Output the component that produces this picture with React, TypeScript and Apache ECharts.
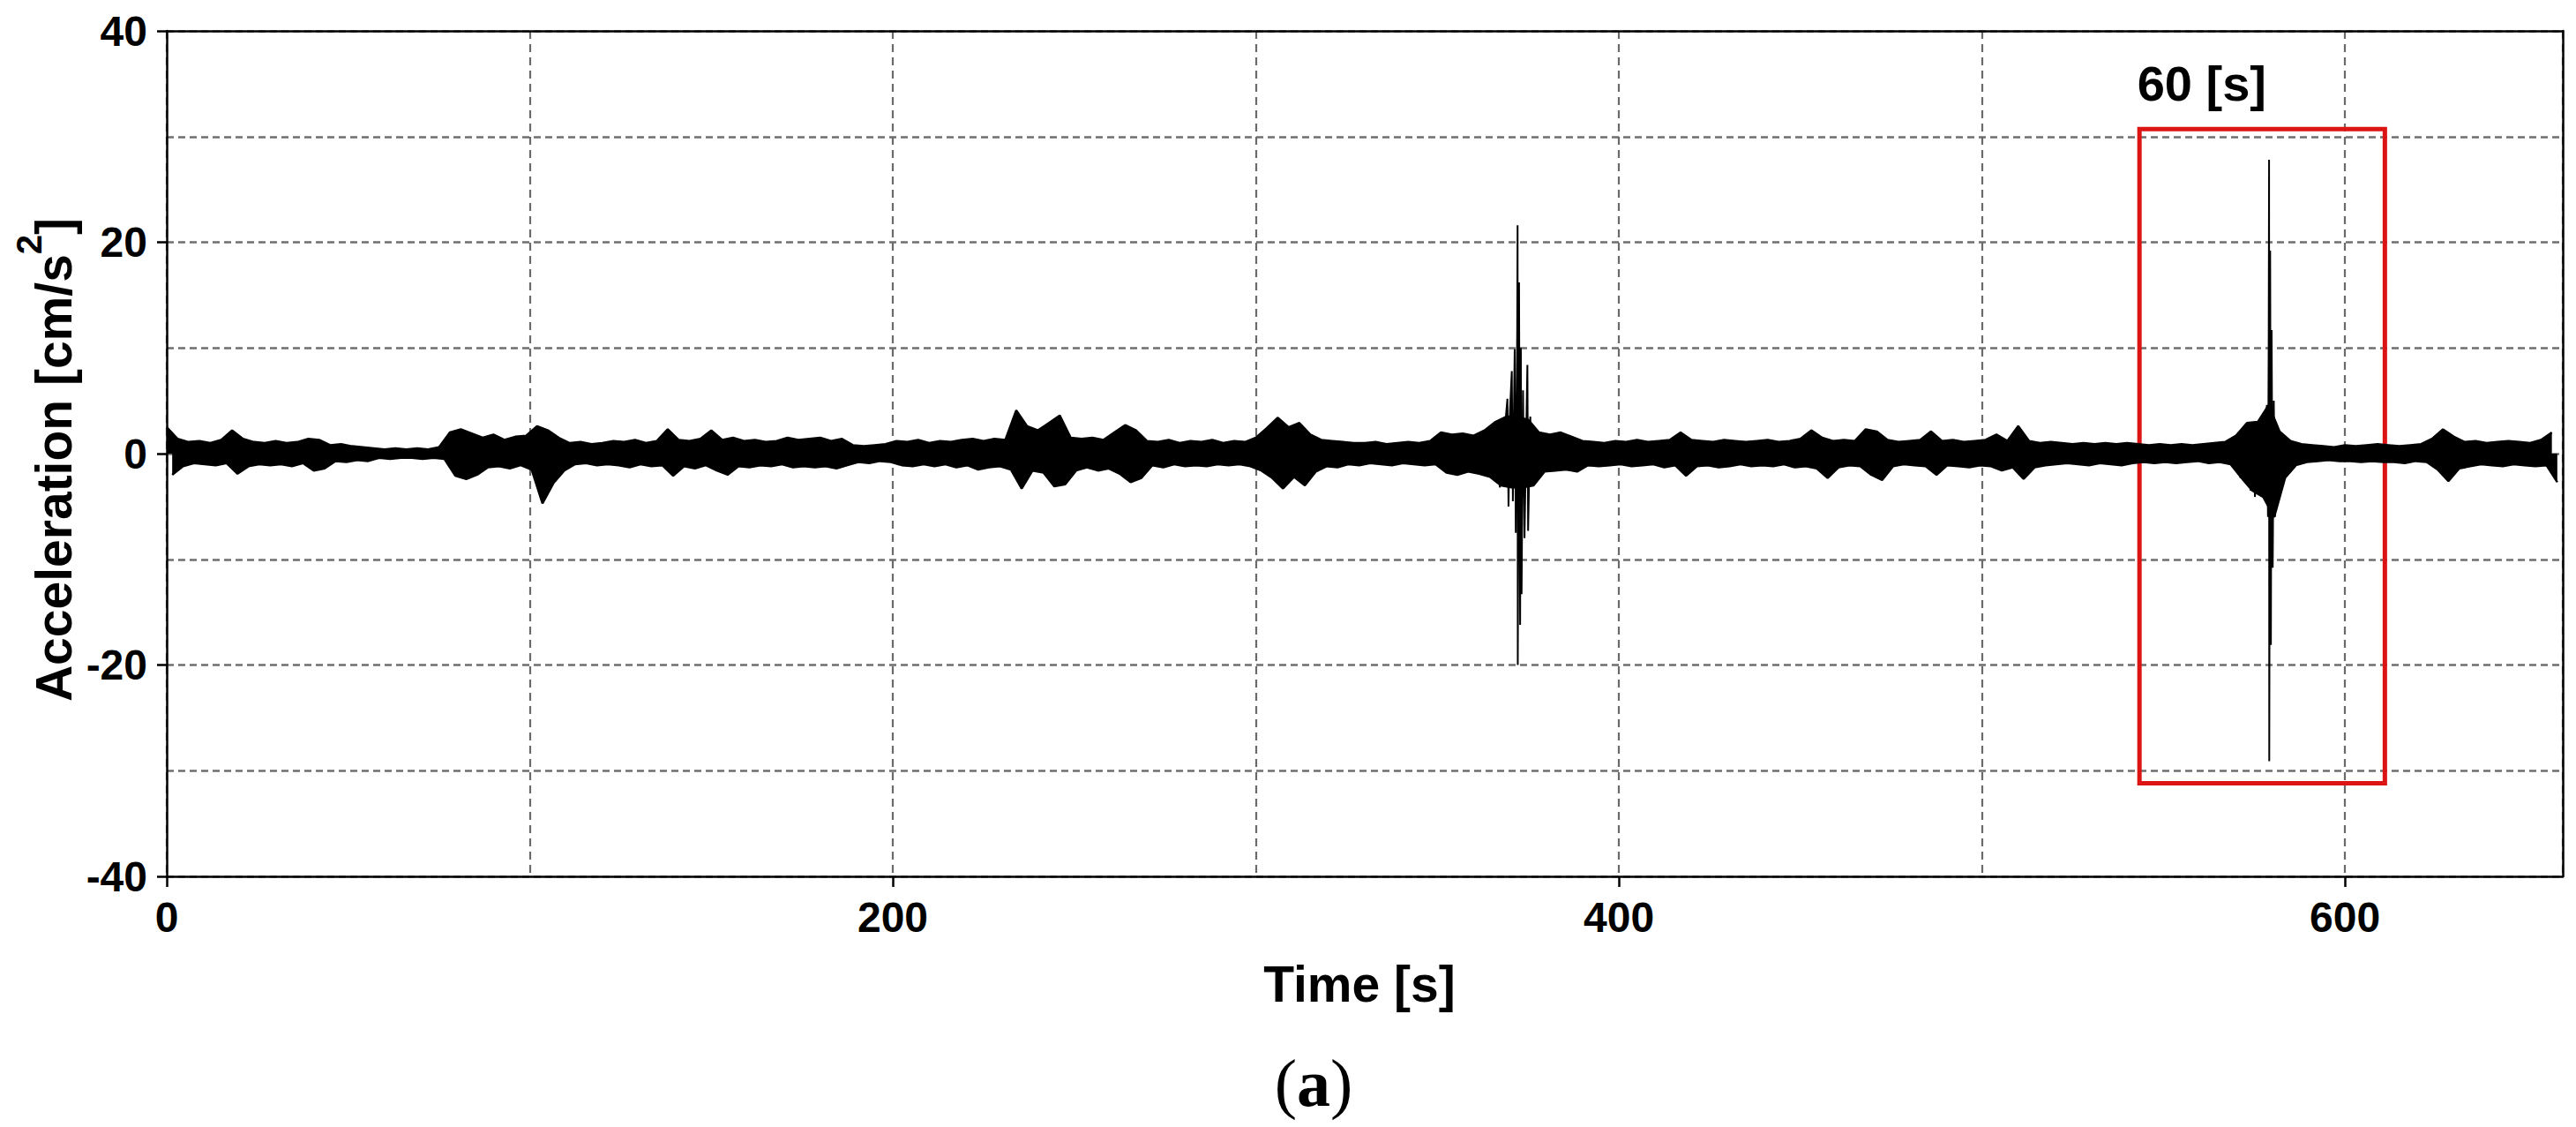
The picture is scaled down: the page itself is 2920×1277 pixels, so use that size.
import React, { useEffect, useRef } from "react";
import * as echarts from "echarts";

// ---- axis ticks / labels ----
const X_LABELS = [0, 200, 400, 600];
const Y_LABELS = [-40, -20, 0, 20, 40];
const X_MAX = 660;

// ---- background trace: envelope read every 3 s (upper peak at t, lower peak at t+1.5) ----
const BIN_SECONDS = 3;
const UPPER = [
  2.5, 1.4, 1.1, 1.2, 1.0, 1.3, 2.2, 1.4, 1.1, 1.0,
  1.2, 1.0, 1.1, 1.4, 1.3, 0.8, 0.9, 0.7, 0.6, 0.5,
  0.4, 0.5, 0.4, 0.5, 0.4, 0.6, 2.0, 2.3, 1.9, 1.5,
  1.8, 1.3, 1.6, 1.7, 2.6, 2.2, 1.5, 1.0, 1.1, 0.9,
  1.0, 1.2, 1.1, 1.3, 1.0, 1.2, 2.3, 1.3, 1.2, 1.4,
  2.2, 1.3, 1.5, 1.2, 1.3, 1.1, 1.2, 1.5, 1.3, 1.4,
  1.5, 1.2, 1.4, 0.8, 0.7, 0.8, 0.9, 1.2, 1.1, 1.3,
  1.0, 1.2, 1.1, 1.3, 1.4, 1.2, 1.4, 1.3, 4.1, 2.6,
  2.2, 2.9, 3.6, 1.5, 1.4, 1.5, 1.3, 2.0, 2.7, 2.2,
  1.2, 1.1, 1.3, 1.0, 1.2, 1.1, 1.3, 1.0, 1.2, 1.1,
  1.5, 2.4, 3.4, 2.5, 2.9, 1.8, 1.3, 1.2, 1.1, 1.0,
  1.0, 1.1, 0.9, 1.0, 1.1, 1.0, 1.2, 2.0, 1.8, 1.9,
  1.7, 2.2, 3.0, 3.5, 3.5, 3.2, 2.0, 1.8, 2.0, 1.6,
  1.2, 1.1, 1.0, 1.2, 1.1, 1.3, 1.1, 1.2, 1.3, 2.0,
  1.3, 1.2, 1.1, 1.3, 1.2, 1.1, 1.2, 1.3, 1.1, 1.2,
  1.4, 2.2, 1.5, 1.2, 1.3, 1.2, 2.3, 2.1, 1.3, 1.1,
  1.2, 1.3, 2.1, 1.2, 1.3, 1.1, 1.2, 1.3, 1.8, 1.2,
  2.6, 1.2, 1.0, 1.1, 1.0, 0.9, 1.0, 0.9, 1.0, 0.9,
  1.0, 0.9, 0.8, 0.9, 0.8, 0.9, 0.8, 0.9, 1.0, 1.1,
  1.7, 2.9, 3.0, 4.6, 2.1, 1.2, 0.9, 0.8, 0.7, 0.6,
  0.8, 0.7, 0.8, 0.9, 0.8, 0.7, 0.8, 0.9, 1.4, 2.3,
  1.6, 1.1, 1.2, 1.0, 1.1, 1.2, 1.1, 1.0, 1.3, 2.0,
];
const LOWER = [
  -2.0, -1.2, -0.9, -1.0, -1.1, -0.9, -1.9, -1.2, -1.0, -1.1,
  -1.0, -1.2, -0.9, -1.6, -1.4, -0.7, -0.8, -0.6, -0.7, -0.4,
  -0.5, -0.4, -0.4, -0.5, -0.4, -0.5, -2.1, -2.4, -2.0, -1.3,
  -1.2, -1.4, -1.1, -1.5, -4.7, -2.8, -1.6, -1.0, -0.9, -1.1,
  -1.0, -1.1, -1.3, -1.0, -1.2, -1.1, -2.1, -1.2, -1.4, -1.1,
  -1.6, -2.0, -1.2, -1.3, -1.1, -1.2, -1.0, -1.3, -1.2, -1.3,
  -1.2, -1.4, -1.1, -0.8, -0.9, -0.7, -0.8, -1.1, -1.2, -1.0,
  -1.2, -1.0, -1.3, -1.1, -1.5, -1.3, -1.2, -1.5, -3.3, -1.6,
  -1.8, -3.1, -2.9, -1.6, -1.3, -1.6, -1.4, -1.9, -2.7, -2.3,
  -1.1, -1.3, -1.0, -1.2, -1.1, -1.2, -1.0, -1.1, -1.0, -1.2,
  -1.6, -2.3, -3.3, -2.2, -3.0, -1.7, -1.2, -1.3, -1.0, -1.1,
  -0.9, -1.0, -1.1, -0.9, -1.0, -1.1, -1.0, -1.8, -2.0, -1.7,
  -1.9, -2.2, -3.0, -3.2, -3.2, -3.0, -1.7, -1.6, -1.5, -1.7,
  -1.1, -1.2, -1.1, -1.0, -1.2, -1.1, -1.0, -1.3, -1.1, -2.1,
  -1.2, -1.1, -1.3, -1.2, -1.0, -1.2, -1.1, -1.2, -1.0, -1.3,
  -1.2, -1.4, -2.3, -1.3, -1.1, -1.2, -2.0, -2.5, -1.2, -1.0,
  -1.1, -1.2, -2.0, -1.1, -1.2, -1.3, -1.1, -1.2, -1.6, -1.3,
  -2.4, -1.3, -1.1, -1.0, -0.9, -1.0, -1.1, -0.9, -1.0, -1.1,
  -0.9, -0.8, -0.9, -0.8, -0.9, -0.8, -0.7, -0.9, -0.8, -1.0,
  -2.3, -3.5, -4.1, -6.0, -2.3, -1.1, -0.8, -0.7, -0.6, -0.7,
  -0.7, -0.8, -0.7, -0.8, -0.8, -0.9, -0.7, -0.8, -1.5, -2.6,
  -1.4, -1.2, -1.0, -1.1, -1.2, -1.0, -1.1, -1.2, -1.1, -2.7,
];

// ---- the two strong events (time [s], acceleration [cm/s^2]) ----
const EVENT_A_T = [364.2, 364.5, 366.8, 367.2, 369.3, 369.6, 370.0, 370.5, 370.8, 371.3, 371.6, 372.0, 372.1, 372.15, 372.5, 372.8, 373.0, 373.2, 373.6, 374.0, 374.8, 375.0, 375.6, 376.0];
const EVENT_A_V = [2.2, -2.2, 3.0, -3.2, 5.2, -5.0, 4.0, 7.8, -4.5, 9.9, -7.5, 12.0, 21.6, -20.0, 16.2, -16.2, 10.0, -13.3, 6.0, -8.0, 8.4, -7.3, 3.5, -3.0];
const EVENT_B_T = [570.8, 571.2, 573.6, 574.0, 574.8, 575.2, 576.5, 577.0, 578.5, 578.8, 579.0, 579.1, 579.15, 579.4, 579.6, 579.8, 580.1, 580.4, 580.7, 581.2, 581.6, 582.5, 583.0];
const EVENT_B_V = [1.7, -2.3, 3.0, -3.5, 2.6, -4.1, 3.0, -3.5, 4.6, -6.0, 11.0, 27.8, -29.1, 19.2, -18.1, 11.7, -10.8, 5.0, -6.0, 2.1, -2.3, 1.2, -1.2];

// ---- highlighted window ----
const BOX_T = [543.4, 611.0];
const BOX_A = [-31.2, 30.7];
const BOX_LABEL = "60 [s]";

const SANS = "'Liberation Sans', Arial, Helvetica, sans-serif";
const SERIF = "'Liberation Serif', 'Times New Roman', serif";

export default function App() {
  const ref = useRef<HTMLDivElement>(null);

  useEffect(() => {
    if (!ref.current) return;
    const chart = echarts.init(ref.current, null, { renderer: "svg" });

    const upperData = UPPER.map((v, i) => [i * BIN_SECONDS, v]);
    const lowerData = LOWER.map((v, i) => [i * BIN_SECONDS + BIN_SECONDS / 2, v]);
    const eventA = EVENT_A_T.map((t, i) => [t, EVENT_A_V[i]]);
    const eventB = EVENT_B_T.map((t, i) => [t, EVENT_B_V[i]]);

    const axisLineStyle = { color: "#000", width: 2.5 };
    const labelStyle = {
      fontSize: 48,
      fontWeight: "bold" as const,
      fontFamily: SANS,
      color: "#000",
    };

    const option: any = {
      animation: false,
      backgroundColor: "#fff",
      grid: { left: 189, right: 15, top: 35, bottom: 284, containLabel: false },
      xAxis: [
        {
          type: "value",
          min: 0,
          max: X_MAX,
          interval: 200,
          position: "bottom",
          axisLine: { show: true, onZero: false, lineStyle: axisLineStyle },
          axisTick: {
            show: true,
            length: 12,
            lineStyle: axisLineStyle,
            customValues: X_LABELS,
          },
          axisLabel: { ...labelStyle, margin: 22, customValues: X_LABELS },
          splitLine: { show: false },
        },
        {
          type: "value",
          min: 0,
          max: X_MAX,
          interval: 100,
          position: "top",
          axisLine: { show: true, onZero: false, lineStyle: axisLineStyle },
          axisTick: { show: false },
          axisLabel: { show: false },
          splitLine: {
            show: true,
            lineStyle: { color: "#6a6a6a", width: 2.2, type: [9, 6] },
          },
        },
      ],
      yAxis: [
        {
          type: "value",
          min: -40,
          max: 40,
          interval: 20,
          position: "left",
          axisLine: { show: true, onZero: false, lineStyle: axisLineStyle },
          axisTick: {
            show: true,
            length: 11,
            lineStyle: axisLineStyle,
            customValues: Y_LABELS,
          },
          axisLabel: { ...labelStyle, margin: 22, customValues: Y_LABELS },
          splitLine: { show: false },
        },
        {
          type: "value",
          min: -40,
          max: 40,
          interval: 10,
          position: "right",
          axisLine: { show: true, onZero: false, lineStyle: axisLineStyle },
          axisTick: { show: false },
          axisLabel: { show: false },
          splitLine: {
            show: true,
            lineStyle: { color: "#6f6f6f", width: 2.5, type: [8, 5] },
          },
        },
      ],
      series: [
        {
          type: "line",
          name: "upper",
          data: upperData,
          symbol: "none",
          lineStyle: { color: "#000", width: 2.5 },
          areaStyle: { color: "#000", opacity: 1, origin: 0 },
          z: 3,
        },
        {
          type: "line",
          name: "lower",
          data: lowerData,
          symbol: "none",
          lineStyle: { color: "#000", width: 2.5 },
          areaStyle: { color: "#000", opacity: 1, origin: 0 },
          z: 3,
        },
        {
          type: "line",
          name: "eventA",
          data: eventA,
          symbol: "none",
          lineStyle: { color: "#000", width: 2 },
          areaStyle: { color: "#000", opacity: 1, origin: 0 },
          z: 4,
        },
        {
          type: "line",
          name: "eventB",
          data: eventB,
          symbol: "none",
          lineStyle: { color: "#000", width: 2 },
          areaStyle: { color: "#000", opacity: 1, origin: 0 },
          z: 4,
        },
        {
          type: "line",
          name: "window",
          data: [],
          z: 10,
          markArea: {
            silent: true,
            itemStyle: {
              color: "rgba(0,0,0,0)",
              borderColor: "#dd1414",
              borderWidth: 5,
            },
            label: {
              show: true,
              position: [0, -49],
              align: "left",
              verticalAlign: "middle",
              fontSize: 56,
              fontWeight: "bold",
              fontFamily: SANS,
              color: "#000",
            },
            data: [
              [
                { name: BOX_LABEL, coord: [BOX_T[0], BOX_A[1]] },
                { coord: [BOX_T[1], BOX_A[0]] },
              ],
            ],
          },
        },
      ],
      graphic: [
        {
          type: "text",
          x: 1541,
          y: 1115,
          style: {
            text: "Time [s]",
            fontSize: 57,
            fontWeight: "bold",
            fontFamily: SANS,
            fill: "#000",
            align: "center",
            verticalAlign: "middle",
          },
        },
        {
          type: "text",
          x: 61,
          y: 521,
          rotation: Math.PI / 2,
          style: {
            text: "Acceleration [cm/s{sup|2}]",
            fontSize: 57,
            fontWeight: "bold",
            fontFamily: SANS,
            fill: "#000",
            align: "center",
            verticalAlign: "middle",
            rich: {
              sup: {
                fontSize: 40,
                fontWeight: "bold",
                fontFamily: SANS,
                fill: "#000",
                lineHeight: 40,
                padding: [0, 0, 56, 0],
              },
            },
          },
        },
        {
          type: "text",
          x: 1489,
          y: 1227,
          style: {
            text: "({b|a})",
            fontSize: 76,
            fontFamily: SERIF,
            fill: "#000",
            align: "center",
            verticalAlign: "middle",
            rich: {
              b: { fontSize: 76, fontWeight: "bold", fontFamily: SERIF, fill: "#000" },
            },
          },
        },
      ],
    };

    chart.setOption(option);
    return () => chart.dispose();
  }, []);

  return (
    <div
      ref={ref}
      style={{
        position: "absolute",
        left: 0,
        top: 0,
        width: 2920,
        height: 1277,
        background: "#fff",
      }}
    />
  );
}
